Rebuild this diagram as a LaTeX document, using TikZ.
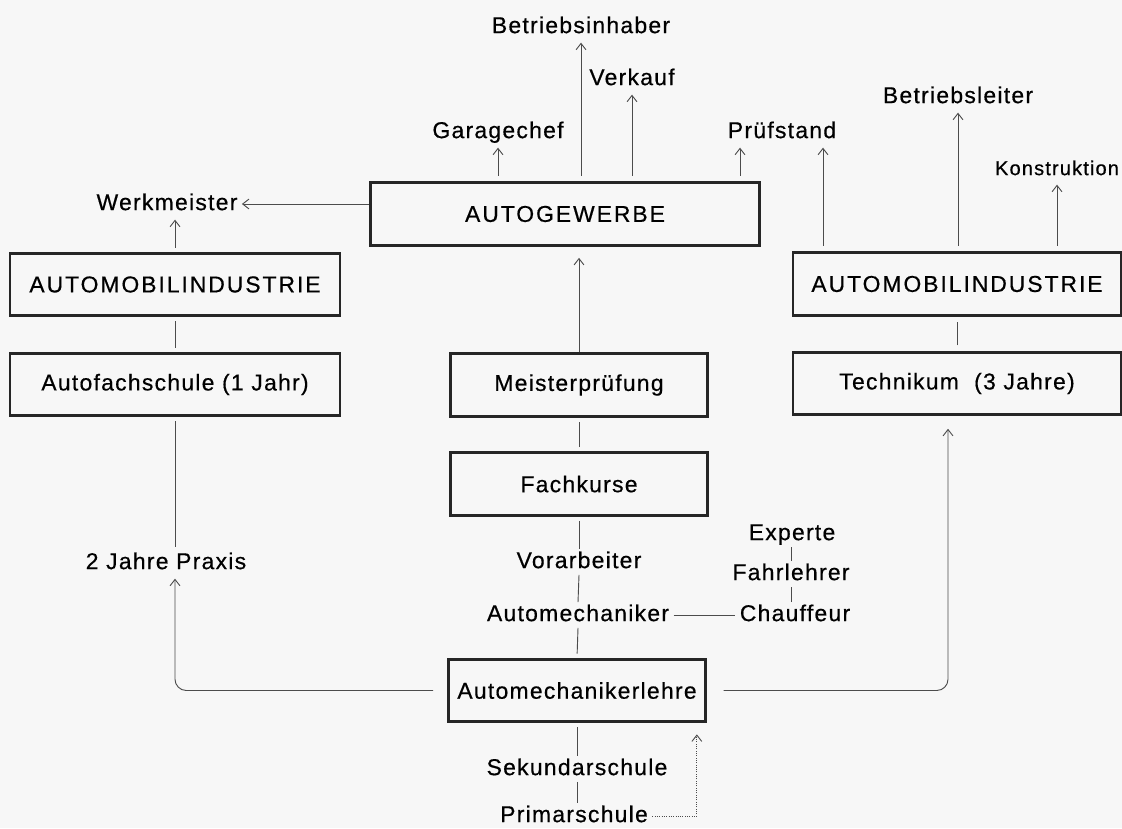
\documentclass[tikz,border=0pt]{standalone}
\usepackage{fontspec}
\setmainfont{Liberation Sans}[LetterSpace=5.5, FakeBold=0.5]
\newfontfamily\capsfont{Liberation Sans}[LetterSpace=8.5, FakeBold=0.5]
\usetikzlibrary{arrows.meta, calc, positioning}

\begin{document}
\begin{tikzpicture}[x=0.025cm, y=-0.025cm,
    box/.style={draw=black!85, line width=2pt, minimum width=8.25cm, minimum height=1.56cm, font=\fontsize{16.3}{18}\selectfont},
    lbl/.style={inner sep=3pt, text height=12.3pt, text depth=3.6pt, font=\fontsize{16.3}{18}\selectfont},
    stack/.style={lbl, inner ysep=1pt},
    link/.style={draw=black!70, line width=0.65pt},
    >={Straight Barb[length=4.5pt, width=7pt]}]
    \useasboundingbox (0,0) rectangle (1122,828);
    \fill[black!3] (0,0) rectangle (1122,828);

    % Kästen
    \node[box, minimum width=9.73cm] (gewerbe) at (565,214) {\capsfont AUTOGEWERBE};
    \node[box] (indL) at (175,284.5) {\capsfont AUTOMOBILINDUSTRIE};
    \node[box] (schule) at (175,384.5) {Autofachschule (1 Jahr)};
    \node[box, minimum width=6.44cm] (meister) at (579,385) {Meisterprüfung};
    \node[box, minimum width=6.44cm] (kurse) at (579,484) {Fachkurse};
    \node[box, minimum width=6.42cm] (lehre) at (577,690.5) {Automechanikerlehre};
    \node[box, minimum width=8.2cm] (indR) at (957,284) {\capsfont AUTOMOBILINDUSTRIE};
    \node[box, minimum width=8.2cm] (technikum) at (957,383.5) {Technikum \ (3 Jahre)};

    % Berufe
    \node[lbl] (inhaber) at (581,27) {Betriebsinhaber};
    \node[lbl] (verkauf) at (632,79) {Verkauf};
    \node[lbl] (garage) at (498,132) {Garagechef};
    \node[lbl] (pruef) at (782,132) {Prüfstand};
    \node[lbl] (leiter) at (958,97) {Betriebsleiter};
    \node[lbl, font=\fontsize{14.3}{16}\selectfont] (konstr) at (1057,169) {Konstruktion};
    \node[lbl] (werk) at (167,204) {Werkmeister};
    \node[lbl] (praxis) at (166,563) {2 Jahre Praxis};
    \node[stack] (vorarb) at (579,562) {Vorarbeiter};
    \node[stack] (mech) at (578,615) {Automechaniker};
    \node[stack] (chauff) at (795,615) {Chauffeur};
    \node[stack] (fahrl) at (791,574) {Fahrlehrer};
    \node[stack] (experte) at (792,534) {Experte};
    \node[stack] (sek) at (577,769) {Sekundarschule};
    \node[stack] (primar) at (574,816) {Primarschule};

    \coordinate (pruefL) at ($(pruef.south)+(-42,0)$);
    \coordinate (pruefR) at ($(pruef.south)+(41,0)$);
    \coordinate (techIn) at ($(technikum.south)+(-9,0)$);
    \coordinate (lehreIn) at ($(lehre.south east)+(-10,0)$);

    % oben
    \draw[link, ->, shorten <=4pt] (gewerbe.north -| inhaber) -- (inhaber.south);
    \draw[link, ->, shorten <=4pt] (gewerbe.north -| verkauf) -- (verkauf.south);
    \draw[link, ->, shorten <=4pt] (gewerbe.north -| garage) -- (garage.south);
    \draw[link, ->, shorten <=4pt] (gewerbe.north -| pruefL) -- (pruefL);
    \draw[link, ->] (gewerbe.west |- werk) -- (werk.east);
    \draw[link, ->, shorten <=4pt] (indR.north -| leiter) -- (leiter.south);
    \draw[link, ->, shorten <=4pt] (indR.north -| pruefR) -- (pruefR);
    \draw[link, ->, shorten <=4pt] (indR.north -| konstr) -- (konstr.south);

    % links
    \draw[link, ->, shorten <=3pt] (indL.north) -- (indL.north |- werk.south);
    \draw[link, shorten <=3pt, shorten >=3pt] (schule.north) -- (indL.south);
    \draw[link, shorten <=3pt] (schule.south) -- (schule.south |- praxis.north);
    \draw[link, ->, rounded corners=8pt, shorten <=10pt] (lehre.west) -| (schule.south |- praxis.south);

    % rechts
    \draw[link, ->, rounded corners=8pt, shorten <=12pt, shorten >=9pt] (lehre.east) -| (techIn);
    \draw[link, shorten <=4pt, shorten >=4pt] (technikum.north) -- (indR.south);

    % Mitte
    \draw[link, ->, shorten >=8pt] (meister.north) -- (meister.north |- gewerbe.south);
    \draw[link, shorten <=3pt, shorten >=3pt] (kurse.north) -- (meister.south);
    \draw[link, shorten <=3pt] (kurse.south) -- (vorarb.north);
    \draw[link] (vorarb.south) -- (mech.north);
    \draw[link, shorten >=3pt] (mech.south) -- (lehre.north);
    \draw[link] (mech.east) -- (chauff.west);
    \draw[link] (chauff.north -| fahrl) -- (fahrl.south);
    \draw[link] (fahrl.north) -- (experte.south -| fahrl);
    \draw[link, shorten <=3pt] (lehre.south) -- (sek.north);
    \draw[link] (sek.south) -- (sek.south |- primar.north);
    \draw[link, densely dotted, ->, shorten >=8pt] (primar.east) -| (lehreIn);
\end{tikzpicture}
\end{document}
